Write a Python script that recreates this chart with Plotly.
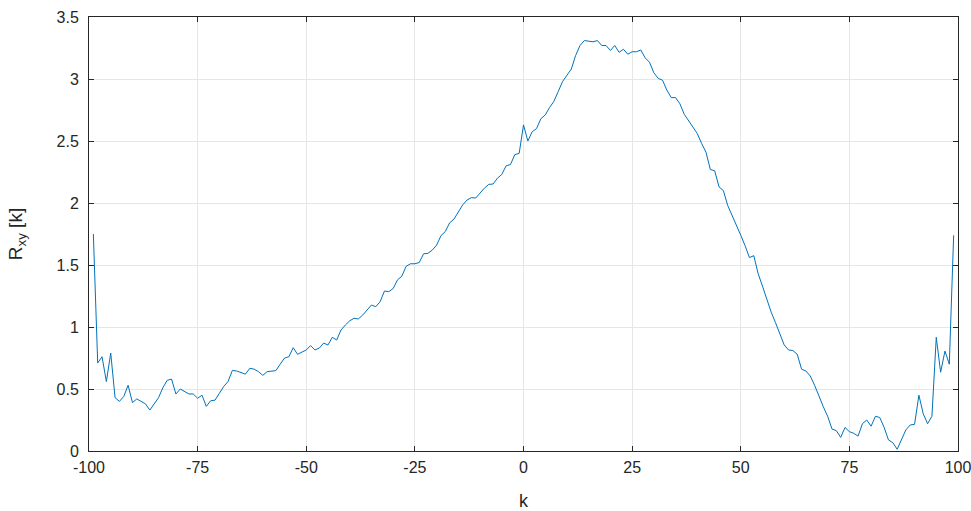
import plotly.graph_objects as go

# Cross-correlation estimate R_xy[k] for lags k = -99 ... 99
lags = list(range(-99, 100))
rxy = [
    1.75, 0.71, 0.76, 0.56, 0.79, 0.43, 0.40, 0.44, 0.53, 0.39,   # -99 .. -90
    0.42, 0.40, 0.38, 0.33, 0.38, 0.43, 0.51, 0.57, 0.58, 0.46,   # -89 .. -80
    0.50, 0.48, 0.46, 0.46, 0.425, 0.45, 0.36, 0.405, 0.41, 0.465,  # -79 .. -70
    0.52, 0.56, 0.65, 0.645, 0.63, 0.62, 0.667, 0.66, 0.64, 0.61,  # -69 .. -60
    0.64, 0.645, 0.648, 0.70, 0.75, 0.76, 0.833, 0.78, 0.80, 0.815,  # -59 .. -50
    0.85, 0.815, 0.83, 0.87, 0.855, 0.917, 0.895, 0.976, 1.016, 1.05,  # -49 .. -40
    1.07, 1.065, 1.097, 1.137, 1.177, 1.164, 1.204, 1.29, 1.285, 1.31,  # -39 .. -30
    1.38, 1.41, 1.49, 1.51, 1.51, 1.52, 1.59, 1.594, 1.62, 1.66,   # -29 .. -20
    1.736, 1.77, 1.84, 1.87, 1.93, 1.984, 2.024, 2.043, 2.04, 2.083,  # -19 .. -10
    2.12, 2.15, 2.153, 2.20, 2.23, 2.30, 2.31, 2.39, 2.40,        # -9 .. -1
    2.63,                                                          # 0
    2.50, 2.575, 2.60, 2.68, 2.71, 2.77, 2.82, 2.90, 2.98, 3.03,   # 1 .. 10
    3.08, 3.19, 3.27, 3.31, 3.306, 3.30, 3.31, 3.27, 3.27, 3.23,   # 11 .. 20
    3.27, 3.215, 3.24, 3.20, 3.22, 3.22, 3.234, 3.17, 3.135, 3.05,  # 21 .. 30
    3.005, 2.99, 2.91, 2.85, 2.85, 2.80, 2.715, 2.665, 2.61, 2.56,  # 31 .. 40
    2.48, 2.41, 2.27, 2.26, 2.13, 2.10, 1.98, 1.90, 1.83, 1.74,    # 41 .. 50
    1.655, 1.56, 1.575, 1.43, 1.33, 1.22, 1.12, 1.035, 0.95, 0.855,  # 51 .. 60
    0.815, 0.81, 0.78, 0.66, 0.645, 0.605, 0.53, 0.44, 0.357, 0.28,  # 61 .. 70
    0.177, 0.164, 0.11, 0.19, 0.156, 0.143, 0.12, 0.22, 0.25, 0.20,  # 71 .. 80
    0.28, 0.27, 0.19, 0.089, 0.067, 0.014, 0.10, 0.17, 0.21, 0.215,  # 81 .. 90
    0.45, 0.30, 0.22, 0.28, 0.917, 0.635, 0.806, 0.70, 1.74,       # 91 .. 99
]

x_ticks = [-100, -75, -50, -25, 0, 25, 50, 75, 100]
x_tick_labels = ["-100", "-75", "-50", "-25", "0", "25", "50", "75", "100"]
y_ticks = [0, 0.5, 1, 1.5, 2, 2.5, 3, 3.5]
y_tick_labels = ["0", "0.5", "1", "1.5", "2", "2.5", "3", "3.5"]

axis_color = "#262626"
grid_color = "#e6e6e6"
font_family = "Liberation Sans, Arial, Helvetica, sans-serif"

fig = go.Figure()
fig.add_trace(go.Scatter(
    x=lags, y=rxy, mode="lines",
    line=dict(color="#0072BD", width=1),
    showlegend=False,
))

common_axis = dict(
    showline=True, linecolor=axis_color, linewidth=1, mirror="ticks",
    ticks="inside", ticklen=5, tickcolor=axis_color, tickwidth=1,
    showgrid=True, gridcolor=grid_color, gridwidth=1,
    zeroline=False, automargin=False, ticklabeloverflow="allow",
    tickfont=dict(family=font_family, size=16, color=axis_color),
)

fig.update_layout(
    width=971, height=511,
    margin=dict(l=89, r=13, t=17, b=60),
    paper_bgcolor="white", plot_bgcolor="white",
    font=dict(family=font_family, color=axis_color),
    xaxis=dict(
        range=[-100, 100], tickvals=x_ticks, ticktext=x_tick_labels,
        ticklabelstandoff=2,
        title=dict(text="k", font=dict(family=font_family, size=18, color=axis_color), standoff=20),
        **common_axis,
    ),
    yaxis=dict(
        range=[0, 3.5], tickvals=y_ticks, ticktext=y_tick_labels,
        ticklabelstandoff=6,
        title=dict(text="R<sub>xy</sub> [k]", font=dict(family=font_family, size=19, color=axis_color), standoff=28),
        **common_axis,
    ),
)

fig.write_html("out.html")
